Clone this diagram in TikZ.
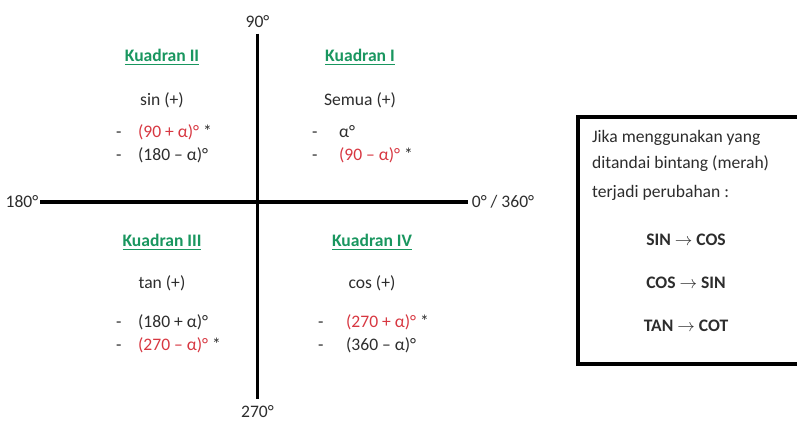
\documentclass[tikz,border=0pt]{standalone}
\usepackage{fontspec}
\setmainfont{Carlito}
\usepackage{xcolor}
\usetikzlibrary{positioning}
\definecolor{kgreen}{RGB}{25,150,95}
\definecolor{kred}{RGB}{215,55,65}
\definecolor{ktext}{RGB}{45,45,45}
\newcommand{\merah}[1]{\textcolor{kred}{#1}}

\begin{document}
\begin{tikzpicture}[font=\fontsize{10}{12}\selectfont, text=ktext,
	judul/.style={text=kgreen, font=\fontsize{10}{12}\selectfont\bfseries},
	isi/.style={anchor=west, inner sep=1pt, text height=1.6ex, text depth=0.4ex},
	sudut/.style={inner sep=2pt},
	sumbu/.style={line width=1.8pt, black}]
	
	\useasboundingbox (0,0) rectangle (15.94,8.46);
	\clip (0,0) rectangle (15.94,8.46);
	
	% sumbu
	\node[sudut, inner sep=3pt] (n90) at (5.15,8.02) {90°};
	\node[sudut, inner sep=4pt] (n270) at (5.15,0.22) {270°};
	\node[sudut, inner sep=1pt] (n180) at (0.44,4.42) {180°};
	\node[sudut] (n0) at (10.06,4.42) {0° / 360°};
	\draw[sumbu] (n90) -- (n270);
	\draw[sumbu] (n180) -- (n0);
	
	% Kuadran II
	\node[judul] (k2) at (3.24,7.32) {\underline{Kuadran II}};
	\node (k2f) at (3.24,6.46) {sin (+)};
	\node[isi] (k2a) at (2.28,5.82) {-};
	\node[isi] (k2b) at (2.28,5.36) {-};
	\node[isi] (k2c) at (2.72,5.82) {\merah{(90 + α)°} *};
	\node[isi] (k2d) at (2.72,5.36) {(180 – α)°};
	
	% Kuadran I
	\node[judul] (k1) at (7.20,7.32) {\underline{Kuadran I}};
	\node (k1f) at (7.20,6.46) {Semua (+)};
	\node[isi] (k1a) at (6.20,5.82) {-};
	\node[isi] (k1b) at (6.20,5.36) {-};
	\node[isi] (k1c) at (6.74,5.82) {α°};
	\node[isi] (k1d) at (6.74,5.36) {\merah{(90 – α)°} *};
	
	% Kuadran III
	\node[judul] (k3) at (3.24,3.62) {\underline{Kuadran III}};
	\node (k3f) at (3.24,2.80) {tan (+)};
	\node[isi] (k3a) at (2.28,2.02) {-};
	\node[isi] (k3b) at (2.28,1.56) {-};
	\node[isi] (k3c) at (2.72,2.02) {(180 + α)°};
	\node[isi] (k3d) at (2.72,1.56) {\merah{(270 – α)°} *};
	
	% Kuadran IV
	\node[judul] (k4) at (7.44,3.62) {\underline{Kuadran IV}};
	\node (k4f) at (7.44,2.80) {cos (+)};
	\node[isi] (k4a) at (6.32,2.02) {-};
	\node[isi] (k4b) at (6.32,1.56) {-};
	\node[isi] (k4c) at (6.88,2.02) {\merah{(270 + α)°} *};
	\node[isi] (k4d) at (6.88,1.56) {(360 – α)°};
	
	% keterangan
	\draw[line width=2pt, black] (16.2,6.12) -- (11.56,6.12) -- (11.56,1.18) -- (16.2,1.18);
	\node[isi] (ket1) at (11.80,5.72) {Jika menggunakan yang};
	\node[isi] (ket2) at (11.80,5.20) {ditandai bintang (merah)};
	\node[isi] (ket3) at (11.80,4.62) {terjadi perubahan :};
	\node[font=\fontsize{10}{12}\selectfont\bfseries] (ub1) at (13.72,3.66) {SIN $\rightarrow$ COS};
	\node[font=\fontsize{10}{12}\selectfont\bfseries] (ub2) at (13.72,2.80) {COS $\rightarrow$ SIN};
	\node[font=\fontsize{10}{12}\selectfont\bfseries] (ub3) at (13.72,1.94) {TAN $\rightarrow$ COT};
	
\end{tikzpicture}
\end{document}
